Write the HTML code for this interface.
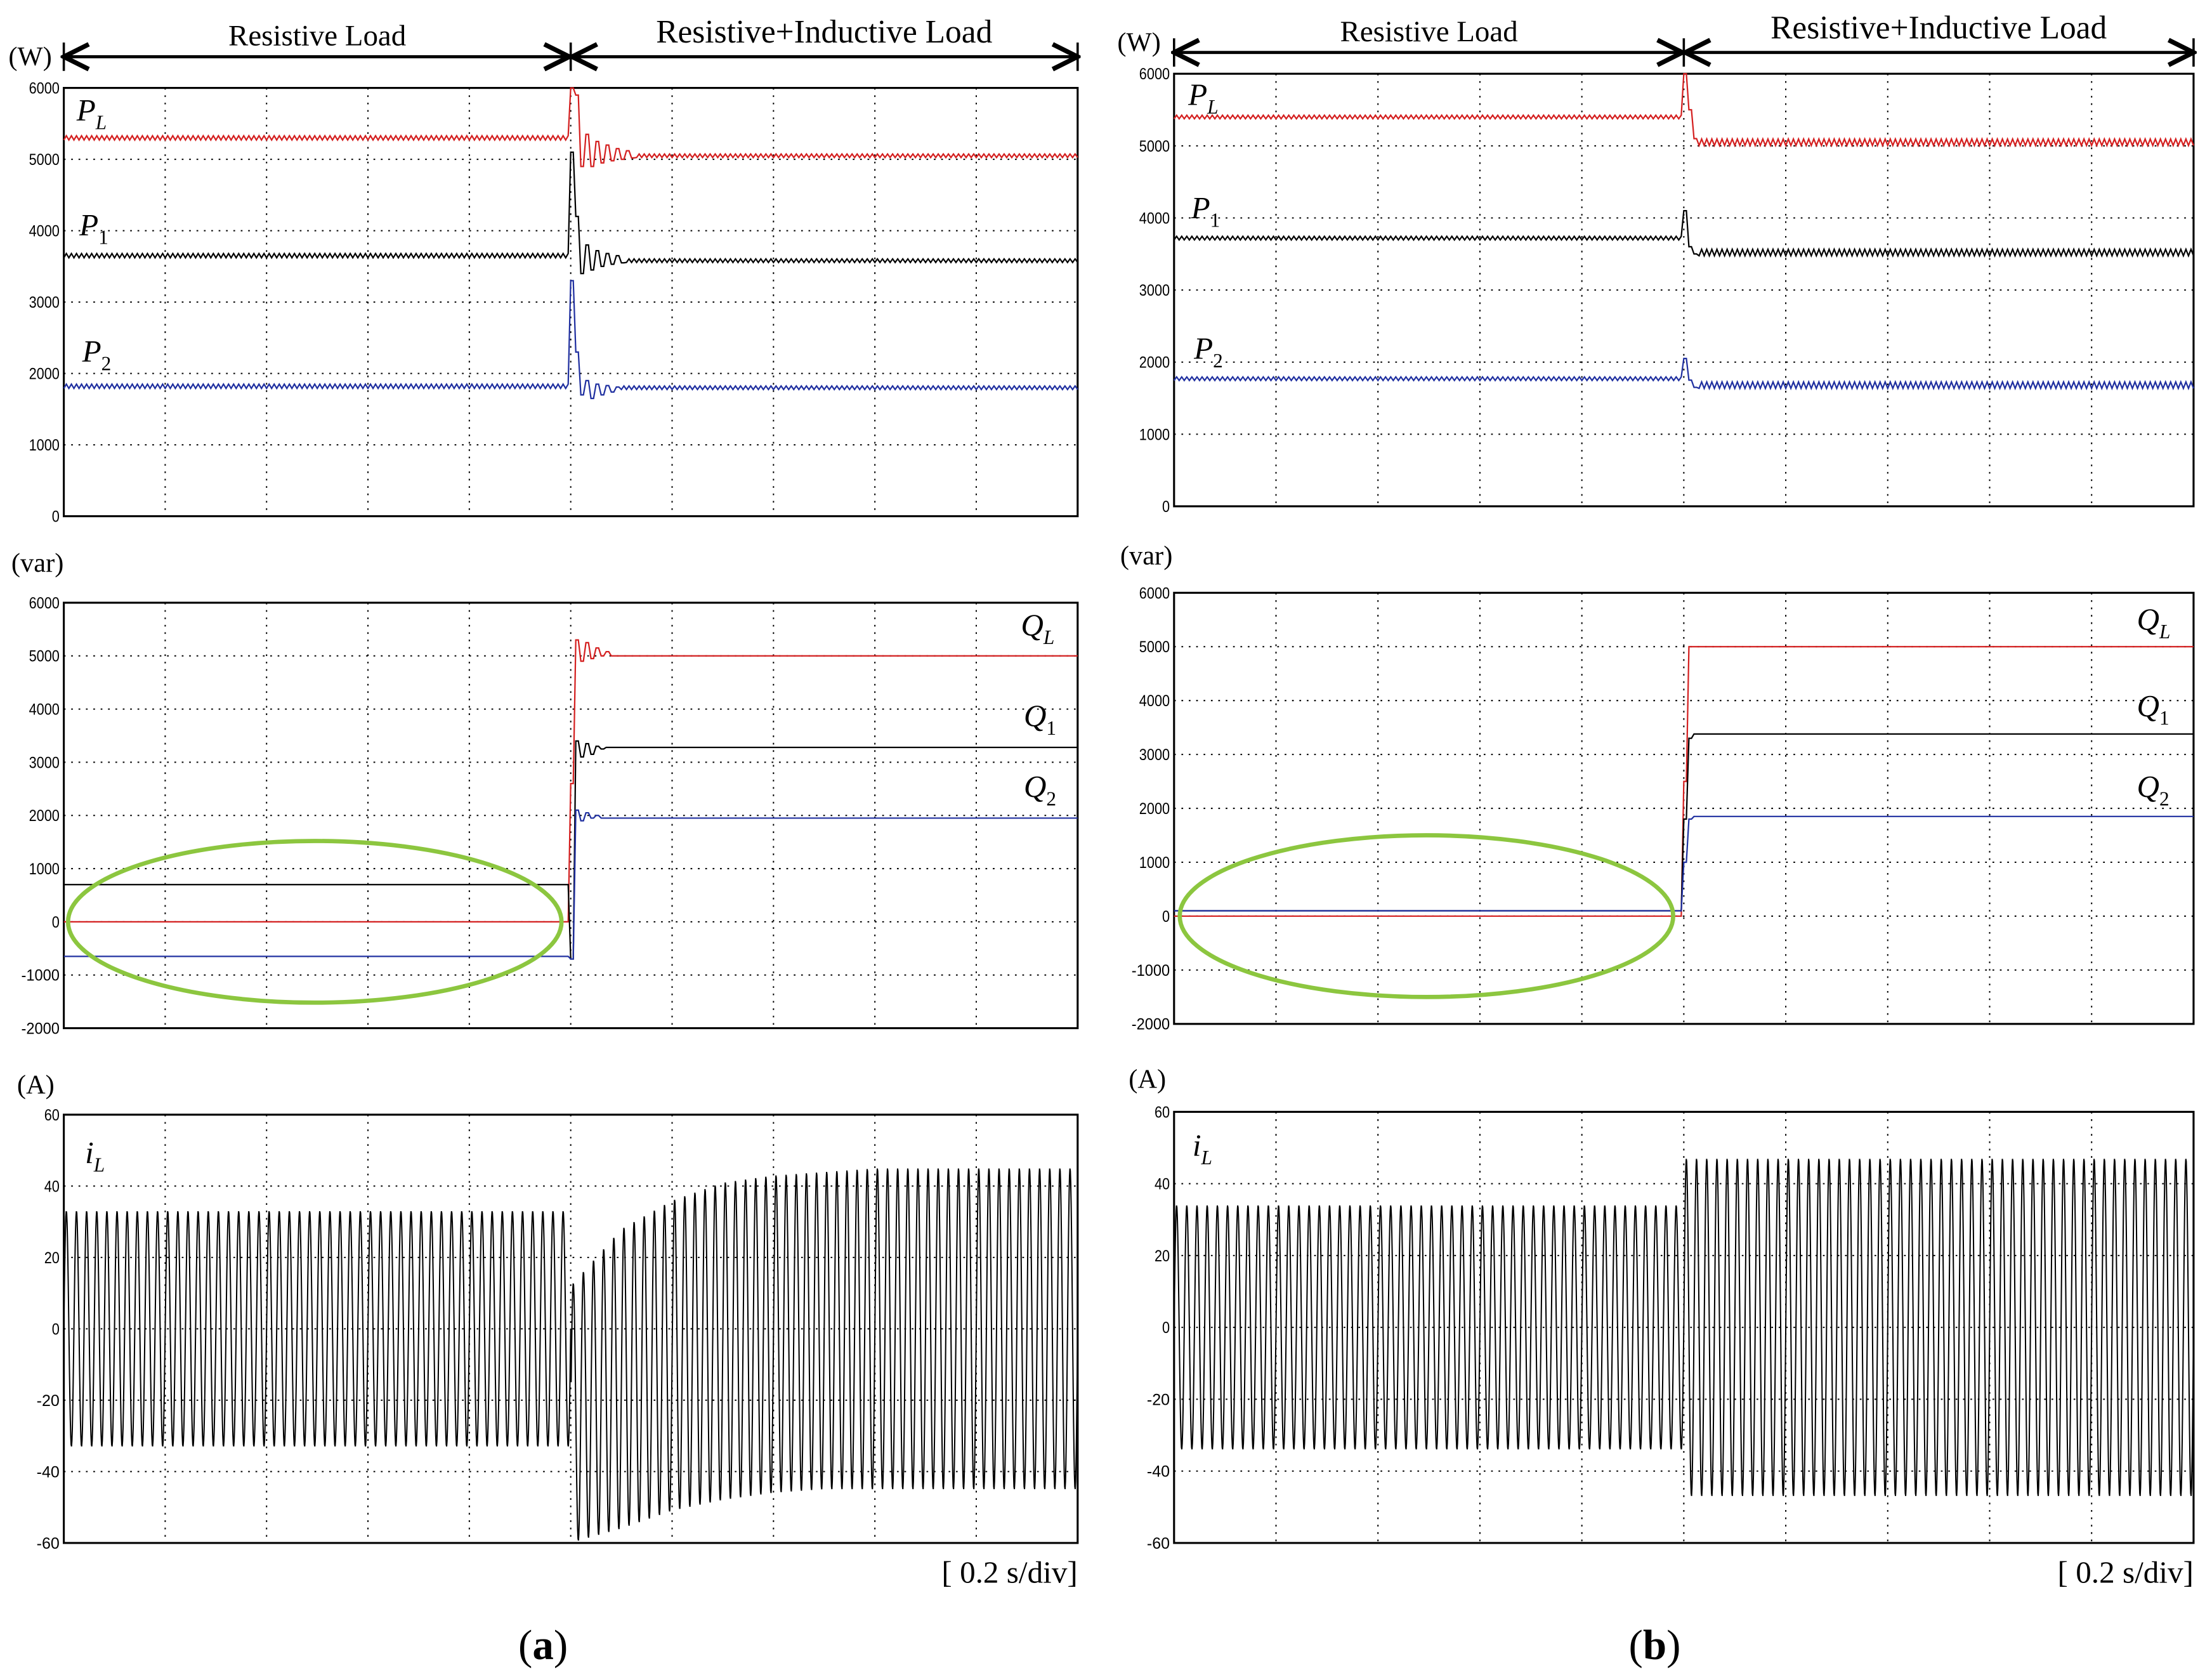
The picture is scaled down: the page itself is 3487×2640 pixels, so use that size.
<!DOCTYPE html>
<html><head><meta charset="utf-8"><style>
html,body{margin:0;padding:0;background:#fff;}
svg{display:block;}
.tick{font-family:"Liberation Sans",sans-serif;font-size:11px;}
</style></head><body>
<svg id="fig" width="3487" height="2640" viewBox="0 0 1560 1181.1" preserveAspectRatio="none" xmlns="http://www.w3.org/2000/svg" font-family="Liberation Serif, serif">
<defs>
<marker id="arrL" markerWidth="10" markerHeight="10" refX="1" refY="5" orient="auto"><path d="M9,1 L1,5 L9,9" fill="none" stroke="#000" stroke-width="1.5"/></marker>
<marker id="arrR" markerWidth="10" markerHeight="10" refX="9" refY="5" orient="auto"><path d="M1,1 L9,5 L1,9" fill="none" stroke="#000" stroke-width="1.5"/></marker>
</defs>
<g id="root" font-family="Liberation Serif, serif"></g>
</svg>
<script>
// ---------- data ----------
const pTicks = [0,1000,2000,3000,4000,5000,6000];
const qTicks = [-2000,-1000,0,1000,2000,3000,4000,5000,6000];
const iTicks = [-60,-40,-20,0,20,40,60];
// power (a): before, after, transient samples (every 0.05 div after step)
const aPLpre = 5300, aPLpost = 5050, aPLtr = [6000,5900,4900,5350,4900,5250,4950,5200,4980,5150,5000,5120,5020];
const aP1pre = 3650, aP1post = 3580, aP1tr = [5100,4200,3400,3800,3450,3720,3500,3680,3530,3650,3550];
const aP2pre = 1820, aP2post = 1800, aP2tr = [3300,2300,1700,1900,1650,1850,1700,1830,1740,1810];
const aQLpre = 0, aQLpost = 5000, aQLtr = [2600,5300,4900,5250,4950,5150,5000,5080];
const aQ1pre = 700, aQ1post = 3280, aQ1tr = [-700,3400,3100,3350,3150,3300,3250];
const aQ2pre = -650, aQ2post = 1950, aQ2tr = [-700,2100,1900,2050,1950,2000];
// power (b)
const bPLpre = 5400, bPLpost = 5050, bPLtr = [6000,5500,5100];
const bP1pre = 3720, bP1post = 3520, bP1tr = [4100,3600,3500];
const bP2pre = 1770, bP2post = 1680, bP2tr = [2050,1750,1650];
const bQLpre = 0, bQLpost = 5000, bQLtr = [2500];
const bQ1pre = 100, bQ1post = 3380, bQ1tr = [1800,3300];
const bQ2pre = 100, bQ2post = 1850, bQ2tr = [1000,1800];
// ripple amplitude (pre, post)
const aRipple = [30,25], bRipple = [25,45];
// current envelopes: every 0.5 div after step (upper / lower peaks)
const aIpre = 33, aIup = [12,28,36,41,43,44,45,45,45,45,45], aIlo = [-60,-56,-51,-48,-46,-45,-45,-45,-45,-45,-45];
const bIpre = 34, bIup = [47,47], bIlo = [-47,-47];
const cyclesPerDiv = 10;

const NS = "http://www.w3.org/2000/svg";
const root = document.getElementById('root');
function el(tag, attrs, parent){ const e=document.createElementNS(NS,tag); for(const k in attrs) e.setAttribute(k,attrs[k]); (parent||root).appendChild(e); return e; }

function makePanel(name, x0, x1, y0, y1, ymin, ymax, ticks){
  const g = el('g',{});
  
  
  const sx = t => x0 + (x1-x0)*t/10;
  const sy = v => y1 - (y1-y0)*(v-ymin)/(ymax-ymin);
  for(let i=1;i<10;i++){
    const l = el('line',{x1:sx(i),x2:sx(i),y1:y0,y2:y1,stroke:'#000','stroke-width':0.9,'stroke-dasharray':'1.2,4'},g);
    
    
  }
  ticks.forEach(v=>{
    if(v!==ymin && v!==ymax){
      const l = el('line',{x1:x0,x2:x1,y1:sy(v),y2:sy(v),stroke:'#000','stroke-width':0.9,'stroke-dasharray':'1.2,4'},g);
      
      
    }
    const t = el('text',{x:x0-3,y:sy(v)+4,'text-anchor':'end','class':'tick','font-family':'Liberation Sans, sans-serif',textLength:(String(v).length*5.4),lengthAdjust:'spacingAndGlyphs'},g);
    t.textContent = v;
    
    
  });
  const r = el('rect',{x:x0,y:y0,width:x1-x0,height:y1-y0,fill:'none',stroke:'#000','stroke-width':1.4},g);
  
  
  return {g,sx,sy};
}

function stepSeries(P, name, color, pre, post, tr, ripple){
  const pts=[]; const dt=0.025; const tdt=0.05; let k=0;
  for(let t=0;t<=10.0001;t+=dt,k++){
    let v;
    if(t<5-1e-9){ v = pre + (k%2?ripple[0]:-ripple[0]); }
    else { const j=Math.floor((t-5)/tdt+1e-6); v = j<tr.length ? tr[j] : post + (k%2?ripple[1]:-ripple[1]); }
    pts.push(P.sx(t).toFixed(2)+','+P.sy(v).toFixed(2));
  }
  const pl = el('polyline',{points:pts.join(' '),fill:'none',stroke:color,'stroke-width':1},P.g);
  
  
}

function currentSeries(P, name, pre, up, lo){
  const pts=[]; const dt=0.004;
  for(let t=0;t<=10.0001;t+=dt){
    let hi, lw;
    if(t<5){ hi=pre; lw=-pre; }
    else { const f=(t-5)/0.5; const i=Math.min(Math.floor(f),up.length-1); const i2=Math.min(i+1,up.length-1); const a=f-Math.floor(f);
      hi = up[i]+(up[i2]-up[i])*a; lw = lo[i]+(lo[i2]-lo[i])*a; }
    const s = Math.sin(2*Math.PI*cyclesPerDiv*t);
    const v = (hi+lw)/2 + (hi-lw)/2*s;
    pts.push(P.sx(t).toFixed(2)+','+P.sy(v).toFixed(2));
  }
  const pl = el('polyline',{points:pts.join(' '),fill:'none',stroke:'#000','stroke-width':0.9},P.g);
  
  
}

function label(txt, x, y, size, opts){
  const t = el('text',Object.assign({x:x,y:y,'font-size':size,'font-family':'Liberation Serif, serif'},opts||{}));
  t.textContent = txt;
  return t;
}
function symLabel(main, sub, x, y, name){
  const t = el('text',{x:x,y:y,'font-size':22,'font-family':'Liberation Serif, serif'});
  
  
  const a = el('tspan',{'font-style':'italic'},t); a.textContent=main;
  const b = el('tspan',{dy:6,'font-size':14,'font-style':(sub==='L'?'italic':'normal')},t); b.textContent=sub;
}

function figure(side, X0, X1, pY, qY, iY, hdrY, data){
  const mid = (X0+X1)/2;
  let l = el('line',{x1:X0,x2:mid-1,y1:hdrY,y2:hdrY,stroke:'#000','stroke-width':2.2,'marker-start':'url(#arrL)','marker-end':'url(#arrR)'});
   
  l = el('line',{x1:mid+1,x2:X1,y1:hdrY,y2:hdrY,stroke:'#000','stroke-width':2.2,'marker-start':'url(#arrL)','marker-end':'url(#arrR)'});
   
  [X0,mid,X1].forEach(x=>{ const b=el('line',{x1:x,x2:x,y1:hdrY-10,y2:hdrY+10,stroke:'#000','stroke-width':1.6});   });
  let t = label('Resistive Load',(X0+mid)/2,hdrY-8,21,{'text-anchor':'middle'});
   
  t = label('Resistive+Inductive Load',(mid+X1)/2,hdrY-10,23,{'text-anchor':'middle'});
   

  const P = makePanel(side+'-active-power-panel', X0, X1, pY[0], pY[1], 0, 6000, pTicks);
  stepSeries(P, side+'-PL-line','#d42020',...data.PL, data.rip);
  stepSeries(P, side+'-P1-line','#000',...data.P1, data.rip);
  stepSeries(P, side+'-P2-line','#2030a0',...data.P2, data.rip);
  const Q = makePanel(side+'-reactive-power-panel', X0, X1, qY[0], qY[1], -2000, 6000, qTicks);
  stepSeries(Q, side+'-QL-line','#d42020',...data.QL, [0,0]);
  stepSeries(Q, side+'-Q1-line','#000',...data.Q1, [0,0]);
  stepSeries(Q, side+'-Q2-line','#2030a0',...data.Q2, [0,0]);
  const I = makePanel(side+'-current-panel', X0, X1, iY[0], iY[1], -60, 60, iTicks);
  currentSeries(I, side+'-iL-line', ...data.I);
  return {P,Q,I};
}

const A = figure('a', 45, 760, [62,364], [425,725], [786,1088], 40, {
  PL:[aPLpre,aPLpost,aPLtr], P1:[aP1pre,aP1post,aP1tr], P2:[aP2pre,aP2post,aP2tr],
  QL:[aQLpre,aQLpost,aQLtr], Q1:[aQ1pre,aQ1post,aQ1tr], Q2:[aQ2pre,aQ2post,aQ2tr], rip:aRipple,
  I:[aIpre,aIup,aIlo]});
const B = figure('b', 828, 1547, [52,357], [418,722], [784,1088], 37, {
  PL:[bPLpre,bPLpost,bPLtr], P1:[bP1pre,bP1post,bP1tr], P2:[bP2pre,bP2post,bP2tr],
  QL:[bQLpre,bQLpost,bQLtr], Q1:[bQ1pre,bQ1post,bQ1tr], Q2:[bQ2pre,bQ2post,bQ2tr], rip:bRipple,
  I:[bIpre,bIup,bIlo]});

[['(W)',6,46,'a'],['(var)',8,403,'a'],['(A)',12,771,'a'],['(W)',788,36,'b'],['(var)',790,398,'b'],['(A)',796,767,'b']].forEach(u=>{
  const t=label(u[0],u[1],u[2],19);  
});
symLabel('P','L',54,85,'a-PL-label'); symLabel('P','1',56,166,'a-P1-label'); symLabel('P','2',58,255,'a-P2-label');
symLabel('Q','L',720,448,'a-QL-label'); symLabel('Q','1',722,512,'a-Q1-label'); symLabel('Q','2',722,562,'a-Q2-label');
symLabel('i','L',60,820,'a-iL-label');
symLabel('P','L',838,74,'b-PL-label'); symLabel('P','1',840,154,'b-P1-label'); symLabel('P','2',842,253,'b-P2-label');
symLabel('Q','L',1507,444,'b-QL-label'); symLabel('Q','1',1507,505,'b-Q1-label'); symLabel('Q','2',1507,562,'b-Q2-label');
symLabel('i','L',841,815,'b-iL-label');
let e = el('ellipse',{cx:222,cy:650,rx:174,ry:57,fill:'none',stroke:'#8cc63f','stroke-width':3});
 
e = el('ellipse',{cx:1006,cy:646,rx:174,ry:57,fill:'none',stroke:'#8cc63f','stroke-width':3});
 
let t = label('[ 0.2 s/div]',760,1116,22,{'text-anchor':'end'});  
t = label('[ 0.2 s/div]',1547,1116,22,{'text-anchor':'end'});  
t = label('',383,1170,30,{'text-anchor':'middle'});  
const ta1=el('tspan',{},t); ta1.textContent='('; const ta2=el('tspan',{'font-weight':'bold'},t); ta2.textContent='a'; const ta3=el('tspan',{},t); ta3.textContent=')';
t = label('',1167,1170,30,{'text-anchor':'middle'});  
const tb1=el('tspan',{},t); tb1.textContent='('; const tb2=el('tspan',{'font-weight':'bold'},t); tb2.textContent='b'; const tb3=el('tspan',{},t); tb3.textContent=')';
</script>
</body></html>
